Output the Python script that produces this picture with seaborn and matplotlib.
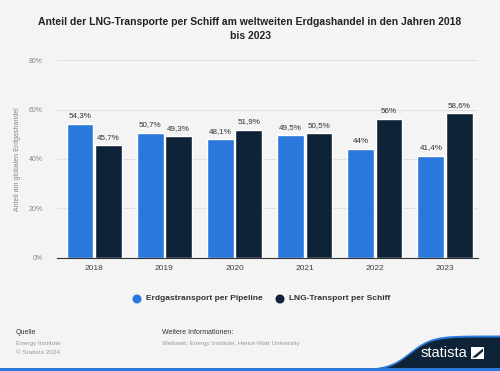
import numpy as np
import pandas as pd
import matplotlib
matplotlib.use("Agg")
import matplotlib.pyplot as plt
import seaborn as sns
from matplotlib.patches import Polygon

years = ["2018", "2019", "2020", "2021", "2022", "2023"]
pipeline = [54.3, 50.7, 48.1, 49.5, 44.0, 41.4]
lng = [45.7, 49.3, 51.9, 50.5, 56.0, 58.6]
series_names = ["Erdgastransport per Pipeline", "LNG-Transport per Schiff"]
pipeline_labels = ["54,3%", "50,7%", "48,1%", "49,5%", "44%", "41,4%"]
lng_labels = ["45,7%", "49,3%", "51,9%", "50,5%", "56%", "58,6%"]

df = pd.DataFrame({
    "Jahr": years * 2,
    "Anteil": pipeline + lng,
    "Serie": [series_names[0]] * len(years) + [series_names[1]] * len(years),
})

bg = "#f4f4f4"
blue = "#2a78dc"
dark = "#0e2238"

sns.set_theme(style="white")
plt.rcParams["font.family"] = ["Liberation Sans", "DejaVu Sans"]

fig = plt.figure(figsize=(5, 3.71), dpi=100, facecolor=bg)
ax = fig.add_axes([0.114, 0.305, 0.842, 0.533])
ax.set_facecolor(bg)

sns.barplot(data=df, x="Jahr", y="Anteil", hue="Serie",
            palette=[blue, dark], width=0.81, gap=0.06,
            legend=False, ax=ax, saturation=1)

# value labels
for cont, labels in zip(ax.containers, [pipeline_labels, lng_labels]):
    ax.bar_label(cont, labels=labels, padding=3, fontsize=5.8, color="#333333")

ax.set_ylim(0, 80)
ax.set_xlim(-0.53, 5.47)
ax.set_yticks([0, 20, 40, 60, 80])
ax.set_yticklabels(["0%", "20%", "40%", "60%", "80%"])
ax.yaxis.grid(True, color="#e0e0e0", linewidth=0.7)
ax.set_axisbelow(True)
ax.tick_params(axis="y", labelsize=5, colors="#888888", length=0, pad=10)
ax.tick_params(axis="x", labelsize=6, colors="#444444", length=0, pad=5)
for s in ["top", "right", "left"]:
    ax.spines[s].set_visible(False)
ax.spines["bottom"].set_color("#333333")
ax.spines["bottom"].set_linewidth(0.8)
ax.set_xlabel("")
ax.set_ylabel("Anteil am globalen Erdgashandel", fontsize=5, color="#888888", labelpad=6)

fig.text(0.5, 0.955, "Anteil der LNG-Transporte per Schiff am weltweiten Erdgashandel in den Jahren 2018\nbis 2023",
         ha="center", va="top", fontsize=7.5, fontweight="bold", color="#222222", linespacing=1.6)

# overlay axes in pixel coords for legend and footer
lax = fig.add_axes([0, 0, 1, 1], facecolor="none")
lax.set_xlim(0, 500)
lax.set_ylim(371, 0)
lax.axis("off")
lax.scatter([137, 280], [299, 299], s=30, c=[blue, dark])
lax.text(146, 299, series_names[0], fontsize=6, fontweight="bold", color="#333333", va="center")
lax.text(289, 299, series_names[1], fontsize=6, fontweight="bold", color="#333333", va="center")

# footer
lax.text(16, 332, "Quelle", fontsize=5, color="#333333", va="center")
lax.text(16, 343, "Energy Institute", fontsize=4.6, color="#999999", va="center")
lax.text(16, 352, "© Statista 2024", fontsize=4.6, color="#999999", va="center")
lax.text(162, 332, "Weitere Informationen:", fontsize=5, color="#333333", va="center")
lax.text(162, 343, "Weltweit; Energy Institute; Heriot-Watt University", fontsize=4.6, color="#999999", va="center")

# statista wave + logo
xs = np.linspace(370, 500, 80)
top = 371 - 34 / (1 + np.exp(-(xs - 410) / 11))
lax.add_patch(Polygon(np.column_stack([np.r_[xs, 500, 370], np.r_[top - 1.5, 371, 371]]),
                      closed=True, color=blue, lw=0))
lax.add_patch(Polygon(np.column_stack([np.r_[xs, 500, 370], np.r_[top + 0.5, 371, 371]]),
                      closed=True, color=dark, lw=0))
lax.add_patch(Polygon([[0, 368], [500, 368], [500, 371], [0, 371]], closed=True, color=blue, lw=0))
lax.text(421, 353, "statista", fontsize=10.5, color="white", va="center")
lax.add_patch(Polygon([[471, 347], [484, 347], [484, 359], [471, 359]], closed=True, color="white", lw=0))
lax.add_patch(Polygon([[472, 357.5], [483, 348.5], [483, 351.5], [476, 357.5]], closed=True, color=dark, lw=0))

fig.savefig("out.png", dpi=100, facecolor=bg)
